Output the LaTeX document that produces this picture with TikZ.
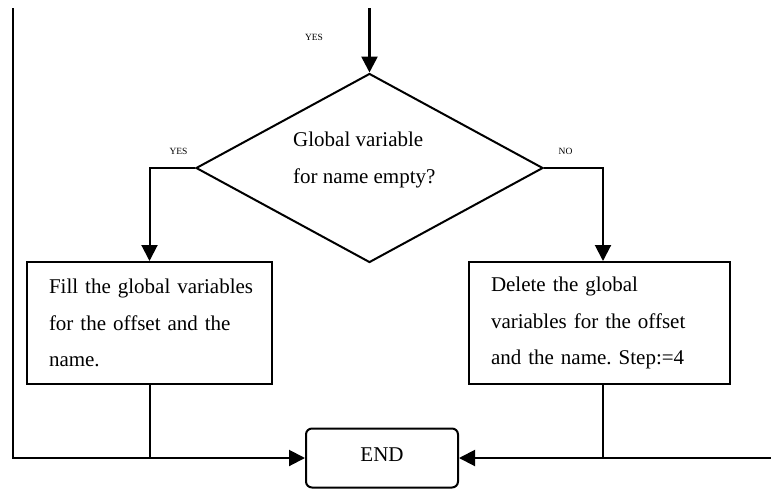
\documentclass[tikz,border=0pt]{standalone}
\usepackage{fontspec}
\setmainfont{Liberation Serif}
\usetikzlibrary{arrows.meta,shapes.geometric}
\begin{document}
\frenchspacing
\begin{tikzpicture}[x=1pt,y=-1pt,
  line/.style={line width=2pt},
  arr/.style={line, -{Triangle[length=16pt,width=16pt]}},
  txt/.style={font=\fontsize{21}{36.5}\selectfont},
  proc/.style={draw, line width=2pt, txt, inner xsep=22pt, inner ysep=0pt,
    align=left, minimum height=122pt},
  small/.style={font=\fontsize{9.5}{11}\selectfont, inner sep=0pt, anchor=base}
]
\useasboundingbox (0,0) rectangle (771,488);

% decision
\node[draw, diamond, line width=2pt, minimum width=347pt, minimum height=189pt,
  inner sep=0pt] (q) at (369.5,168) {};
\node[txt, align=left, anchor=west, inner sep=0pt, font=\fontsize{21}{37}\selectfont]
  (qtext) at (293,159.5) {Global variable\\for name empty?};

% process boxes (each line kept whole)
\node[proc, minimum width=245pt, text width=201pt] (fill) at (149.5,323)
  {\mbox{Fill the global variables}\\\mbox{for the offset and the}\\\mbox{name.}};
\node[proc, minimum width=261pt, text width=217pt] (del) at (599.5,323)
  {\mbox{Delete the global}\\\mbox{variables for the offset}\\\mbox{and the name. Step:=4}};

% terminal
\node[draw, line width=2pt, rounded corners=6pt, minimum width=152pt,
  minimum height=59pt, text height=14pt, text depth=8pt, inner sep=0pt, txt]
  (fin) at (382,458) {END};

% branch labels
\node[small] (yestop) at (314,40.5) {YES};
\node[small] (yesleft) at (178.5,154) {YES};
\node[small] (no) at (565.5,154) {NO};

% free ends of incoming lines
\coordinate (intop) at (369.5,8);
\coordinate (looptop) at (13,8);
\coordinate (rightin) at (771,458);

% connectors
\draw[arr, line width=2.6pt] (intop) -- (q.north);
\draw[arr] (q.west) -| (fill.north);
\draw[arr] (q.east) -| ([xshift=3.5pt]del.north);
\draw[arr] (looptop) |- (fin.west);
\draw[line] (fill.south) -- (fill.south |- fin.west);
\draw[line] ([xshift=3.5pt]del.south) -- ([xshift=3.5pt]del.south |- fin.east);
\draw[arr] (rightin) -- (fin.east);
\end{tikzpicture}
\end{document}
